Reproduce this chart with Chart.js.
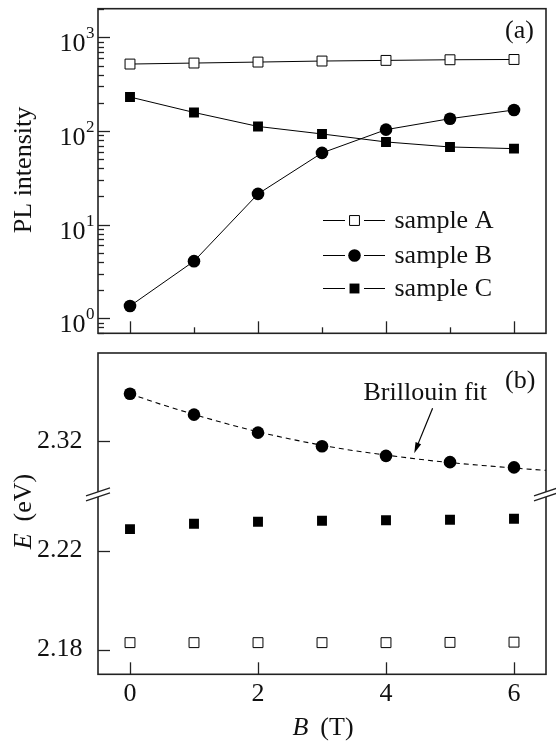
<!DOCTYPE html>
<html>
<head>
<meta charset="utf-8">
<script src="https://cdn.jsdelivr.net/npm/chart.js@4.4.1/dist/chart.umd.min.js"></script>
<style>
  html, body { margin: 0; padding: 0; background: #fff; }
  #wrap { position: relative; width: 556px; height: 742px; }
  canvas { position: absolute; left: 0; }
  #top { top: 0; }
  #bot { top: 345px; }
</style>
</head>
<body>
<div id="wrap">
  <canvas id="top" width="556" height="345"></canvas>
  <canvas id="bot" width="556" height="397"></canvas>
</div>
<script>
// magnetic field, T
const field = [0, 1, 2, 3, 4, 5, 6];
const seriesNames = ['sample A', 'sample B', 'sample C'];

// (a) PL intensity
const plA = [520, 533, 546, 560, 569, 578, 582];
const plB = [1.35, 4.07, 21.3, 58.4, 103.5, 135.6, 168];
const plC = [231, 158, 112, 93.1, 76.5, 67.6, 64.9];

// (b) peak energy, eV
const eA = [2.1828, 2.1828, 2.1828, 2.1828, 2.1828, 2.1829, 2.1830];
const eB = [2.3416, 2.3320, 2.3237, 2.3174, 2.3130, 2.3101, 2.3077];
const eC = [2.2287, 2.2309, 2.2317, 2.2321, 2.2323, 2.2325, 2.2329];

// Brillouin fit curve
const fitField = [0, 0.5, 1, 1.5, 2, 2.5, 3, 3.5, 4, 4.5, 5, 5.5, 6, 6.5];
const fitE = [2.3416, 2.3366, 2.3321, 2.3279, 2.3241, 2.3208, 2.3179, 2.3154, 2.3134, 2.3115, 2.3099, 2.3086, 2.3074, 2.3063];

// ticks
const decades = [1, 10, 100, 1000];
const decadeExp = ['0', '1', '2', '3'];
const eTicksHi = [2.304, 2.312, 2.32, 2.328, 2.336, 2.344, 2.352];
const eTicksLo = [2.172, 2.18, 2.188, 2.196, 2.204, 2.212, 2.22, 2.228, 2.236];
const eLabels = ['2.18', '2.22', '2.32'];
const fieldLabels = ['0', '2', '4', '6'];

const FONT = 'Liberation Serif, Times New Roman, serif';
const INK = '#111';
Chart.defaults.font.family = FONT;
Chart.defaults.font.size = 26;
Chart.defaults.color = INK;

const logTicks = [];
[0.1, 1, 10, 100, 1000].forEach(d => {
  for (let m = 1; m < 10; m++) {
    const v = +(m * d).toPrecision(3);
    if (v >= 0.69 && v <= 2030) logTicks.push(v);
  }
});

const pts = (xs, ys) => xs.map((x, i) => ({ x: x, y: ys[i] }));

const markA = { pointStyle: 'rect', pointRadius: 7, pointBackgroundColor: '#fff', pointBorderColor: '#000', pointBorderWidth: 1 };
const markB = { pointStyle: 'circle', pointRadius: 6.3, pointBackgroundColor: '#000', pointBorderColor: '#000', pointBorderWidth: 0 };
const markC = { pointStyle: 'rect', pointRadius: 7, pointBackgroundColor: '#000', pointBorderColor: '#000', pointBorderWidth: 0 };

// fixed axis sizes, no extra room for half labels
const fixW = s => { s.width = 98; s.paddingTop = 0; s.paddingBottom = 0; };
const fixH = h => s => { s.height = h; s.paddingLeft = 0; s.paddingRight = 0; };

function frame(ctx, a) {
  ctx.save();
  ctx.strokeStyle = '#222';
  ctx.lineWidth = 1.6;
  ctx.strokeRect(a.left, a.top, a.right - a.left, a.bottom - a.top);
  ctx.restore();
}

// tick marks pointing into the plot
function inTicks(ctx, a, scale, isMajor) {
  ctx.save();
  ctx.strokeStyle = '#222';
  ctx.lineWidth = 1.3;
  scale.ticks.forEach(t => {
    const len = isMajor(t.value) ? 12 : 6;
    const p = Math.round(scale.getPixelForValue(t.value)) + 0.5;
    ctx.beginPath();
    if (scale.isHorizontal()) {
      ctx.moveTo(p, a.bottom);
      ctx.lineTo(p, a.bottom - len);
    } else {
      ctx.moveTo(a.left, p);
      ctx.lineTo(a.left + len, p);
    }
    ctx.stroke();
  });
  ctx.restore();
}

function txt(ctx, s, x, y, font, align, base) {
  ctx.font = font;
  ctx.textAlign = align || 'left';
  ctx.textBaseline = base || 'middle';
  ctx.fillStyle = INK;
  ctx.fillText(s, x, y);
}

// italic symbol + units, centred on (0,0) of current transform
function symUnits(ctx, sym, units) {
  ctx.font = 'italic 26px ' + FONT;
  const w1 = ctx.measureText(sym).width;
  ctx.font = '26px ' + FONT;
  const w2 = ctx.measureText(units).width;
  const gap = 12;
  const x0 = -(w1 + gap + w2) / 2;
  txt(ctx, sym, x0, 0, 'italic 26px ' + FONT, 'left', 'middle');
  txt(ctx, units, x0 + w1 + gap, 0, '26px ' + FONT, 'left', 'middle');
}

const evenTick = v => Math.abs(v % 2) < 1e-6;

// ---------- panel (a) ----------
const topDeco = {
  id: 'topDeco',
  afterDraw(chart) {
    const ctx = chart.ctx, a = chart.chartArea;
    const ys = chart.scales.y, xs = chart.scales.x;
    frame(ctx, a);
    inTicks(ctx, a, xs, evenTick);
    inTicks(ctx, a, ys, v => decades.includes(v));
    // decade labels 10^n
    decades.forEach((d, i) => {
      const p = ys.getPixelForValue(d);
      txt(ctx, '10', 85.5, p + 14, '26px ' + FONT, 'right', 'alphabetic');
      txt(ctx, decadeExp[i], 86, p + 1, '17px ' + FONT, 'left', 'alphabetic');
    });
    ctx.save();
    ctx.translate(24, 170);
    ctx.rotate(-Math.PI / 2);
    txt(ctx, 'PL intensity', 0, 0, '26px ' + FONT, 'center', 'middle');
    ctx.restore();
    txt(ctx, '(a)', 505, 31, '26px ' + FONT, 'left', 'middle');
    // legend
    const rows = [220, 255, 288];
    chart.data.datasets.forEach((ds, i) => {
      const y = rows[i] + 0.5;
      ctx.save();
      ctx.strokeStyle = '#000';
      ctx.lineWidth = 1;
      ctx.beginPath();
      ctx.moveTo(323, y); ctx.lineTo(345, y);
      ctx.moveTo(364, y); ctx.lineTo(385, y);
      ctx.stroke();
      const cx = 354.5;
      ctx.beginPath();
      if (ds.pointStyle === 'circle') {
        ctx.arc(cx, y, ds.pointRadius, 0, Math.PI * 2);
      } else {
        const h = ds.pointRadius * Math.SQRT1_2;
        ctx.rect(cx - h, y - h, 2 * h, 2 * h);
      }
      ctx.fillStyle = ds.pointBackgroundColor;
      ctx.fill();
      if (ds.pointBorderWidth > 0) ctx.stroke();
      ctx.restore();
      txt(ctx, ds.label, 394.5, rows[i] + 1, '26px ' + FONT, 'left', 'middle');
    });
  }
};

new Chart(document.getElementById('top'), {
  type: 'line',
  data: {
    datasets: [
      Object.assign({ label: seriesNames[0], data: pts(field, plA), borderColor: '#000', borderWidth: 1 }, markA),
      Object.assign({ label: seriesNames[1], data: pts(field, plB), borderColor: '#000', borderWidth: 1 }, markB),
      Object.assign({ label: seriesNames[2], data: pts(field, plC), borderColor: '#000', borderWidth: 1 }, markC)
    ]
  },
  options: {
    responsive: false,
    animation: false,
    layout: { padding: { left: 0, right: 10, top: 8.7, bottom: 0 } },
    plugins: { legend: { display: false }, tooltip: { enabled: false } },
    scales: {
      x: {
        type: 'linear', min: -0.5, max: 6.5,
        grid: { display: false }, border: { display: false },
        ticks: { display: false },
        afterBuildTicks: s => { s.ticks = field.map(v => ({ value: v })); },
        afterFit: fixH(11.7)
      },
      y: {
        type: 'logarithmic', min: 0.69, max: 2030,
        grid: { display: false }, border: { display: false },
        ticks: { display: false },
        afterBuildTicks: s => { s.ticks = logTicks.map(v => ({ value: v })); },
        afterFit: fixW
      }
    }
  },
  plugins: [topDeco]
});

// ---------- panel (b) ----------
const OFF = 345;
const botDeco = {
  id: 'botDeco',
  afterDraw(chart) {
    const ctx = chart.ctx, a = chart.chartArea;
    const isLab = v => eLabels.includes(v.toFixed(2)) && Math.abs(v - +v.toFixed(2)) < 1e-6;
    frame(ctx, a);
    inTicks(ctx, a, chart.scales.x, evenTick);
    inTicks(ctx, a, chart.scales.yHi, isLab);
    inTicks(ctx, a, chart.scales.yLo, isLab);
    // axis break marks
    const y0 = chart.scales.yHi.bottom;
    ctx.save();
    [a.left, a.right].forEach(x => {
      ctx.fillStyle = '#fff';
      ctx.beginPath();
      ctx.moveTo(x - 12, y0 + 1.5); ctx.lineTo(x + 12, y0 - 6.5);
      ctx.lineTo(x + 12, y0 - 1.5); ctx.lineTo(x - 12, y0 + 6.5);
      ctx.closePath();
      ctx.fill();
      ctx.strokeStyle = '#222';
      ctx.lineWidth = 1.3;
      ctx.beginPath();
      ctx.moveTo(x - 12, y0 + 1.5); ctx.lineTo(x + 12, y0 - 6.5);
      ctx.moveTo(x - 12, y0 + 6.5); ctx.lineTo(x + 12, y0 - 1.5);
      ctx.stroke();
    });
    ctx.restore();

    ctx.save();
    ctx.translate(0, -OFF);
    txt(ctx, '(b)', 505, 381, '26px ' + FONT, 'left', 'middle');
    txt(ctx, 'Brillouin fit', 363.5, 400, '26px ' + FONT, 'left', 'alphabetic');
    // arrow to the fit curve
    const x1 = 432.6, y1 = 408.3, x2 = 414.2, y2 = 453.3;
    const ang = Math.atan2(y2 - y1, x2 - x1);
    ctx.strokeStyle = '#000';
    ctx.fillStyle = '#000';
    ctx.lineWidth = 1.2;
    ctx.beginPath();
    ctx.moveTo(x1, y1);
    ctx.lineTo(x2 - 8 * Math.cos(ang), y2 - 8 * Math.sin(ang));
    ctx.stroke();
    ctx.beginPath();
    ctx.moveTo(x2, y2);
    ctx.lineTo(x2 - 11 * Math.cos(ang) + 3 * Math.sin(ang), y2 - 11 * Math.sin(ang) - 3 * Math.cos(ang));
    ctx.lineTo(x2 - 11 * Math.cos(ang) - 3 * Math.sin(ang), y2 - 11 * Math.sin(ang) + 3 * Math.cos(ang));
    ctx.closePath();
    ctx.fill();
    ctx.save();
    ctx.translate(24, 511.5);
    ctx.rotate(-Math.PI / 2);
    symUnits(ctx, 'E', '(eV)');
    ctx.restore();
    ctx.save();
    ctx.translate(323, 728);
    symUnits(ctx, 'B', '(T)');
    ctx.restore();
    ctx.restore();
  }
};

// null (not '') so unlabelled ticks take no room in the layout
const eLabel = v => {
  const s = v.toFixed(2);
  return eLabels.includes(s) && Math.abs(v - +s) < 1e-6 ? s : null;
};

new Chart(document.getElementById('bot'), {
  type: 'line',
  data: {
    datasets: [
      { label: 'Brillouin fit', data: pts(fitField, fitE), yAxisID: 'yHi', borderColor: '#000', borderWidth: 1.1,
        borderDash: [5, 4], pointRadius: 0, cubicInterpolationMode: 'monotone' },
      Object.assign({ label: seriesNames[1], data: pts(field, eB), yAxisID: 'yHi', showLine: false }, markB),
      Object.assign({ label: seriesNames[2], data: pts(field, eC), yAxisID: 'yLo', showLine: false }, markC),
      Object.assign({ label: seriesNames[0], data: pts(field, eA), yAxisID: 'yLo', showLine: false }, markA)
    ]
  },
  options: {
    responsive: false,
    animation: false,
    layout: { padding: { left: 0, right: 10, top: 6.7, bottom: 0 } },
    plugins: { legend: { display: false }, tooltip: { enabled: false } },
    scales: {
      x: {
        type: 'linear', min: -0.5, max: 6.5,
        grid: { display: false }, border: { display: false },
        ticks: {
          padding: -4, maxRotation: 0, autoSkip: false,
          callback: v => fieldLabels.includes(String(v)) ? String(v) : null
        },
        afterBuildTicks: s => { s.ticks = field.map(v => ({ value: v })); },
        afterFit: fixH(67.7)
      },
      // stacked axes are laid out bottom-up: lower segment first
      yLo: {
        type: 'linear', position: 'left', stack: 'energy', stackWeight: 181.3,
        min: 2.17, max: 2.2428,
        grid: { display: false }, border: { display: false },
        ticks: { padding: 7.6, autoSkip: false, callback: eLabel },
        afterBuildTicks: s => { s.ticks = eTicksLo.map(v => ({ value: v })); },
        afterFit: fixW
      },
      yHi: {
        type: 'linear', position: 'left', stack: 'energy', stackWeight: 142.3,
        min: 2.2953, max: 2.3604,
        grid: { display: false }, border: { display: false },
        ticks: { padding: 7.6, autoSkip: false, callback: eLabel },
        afterBuildTicks: s => { s.ticks = eTicksHi.map(v => ({ value: v })); },
        afterFit: fixW
      }
    }
  },
  plugins: [botDeco]
});
</script>
</body>
</html>
